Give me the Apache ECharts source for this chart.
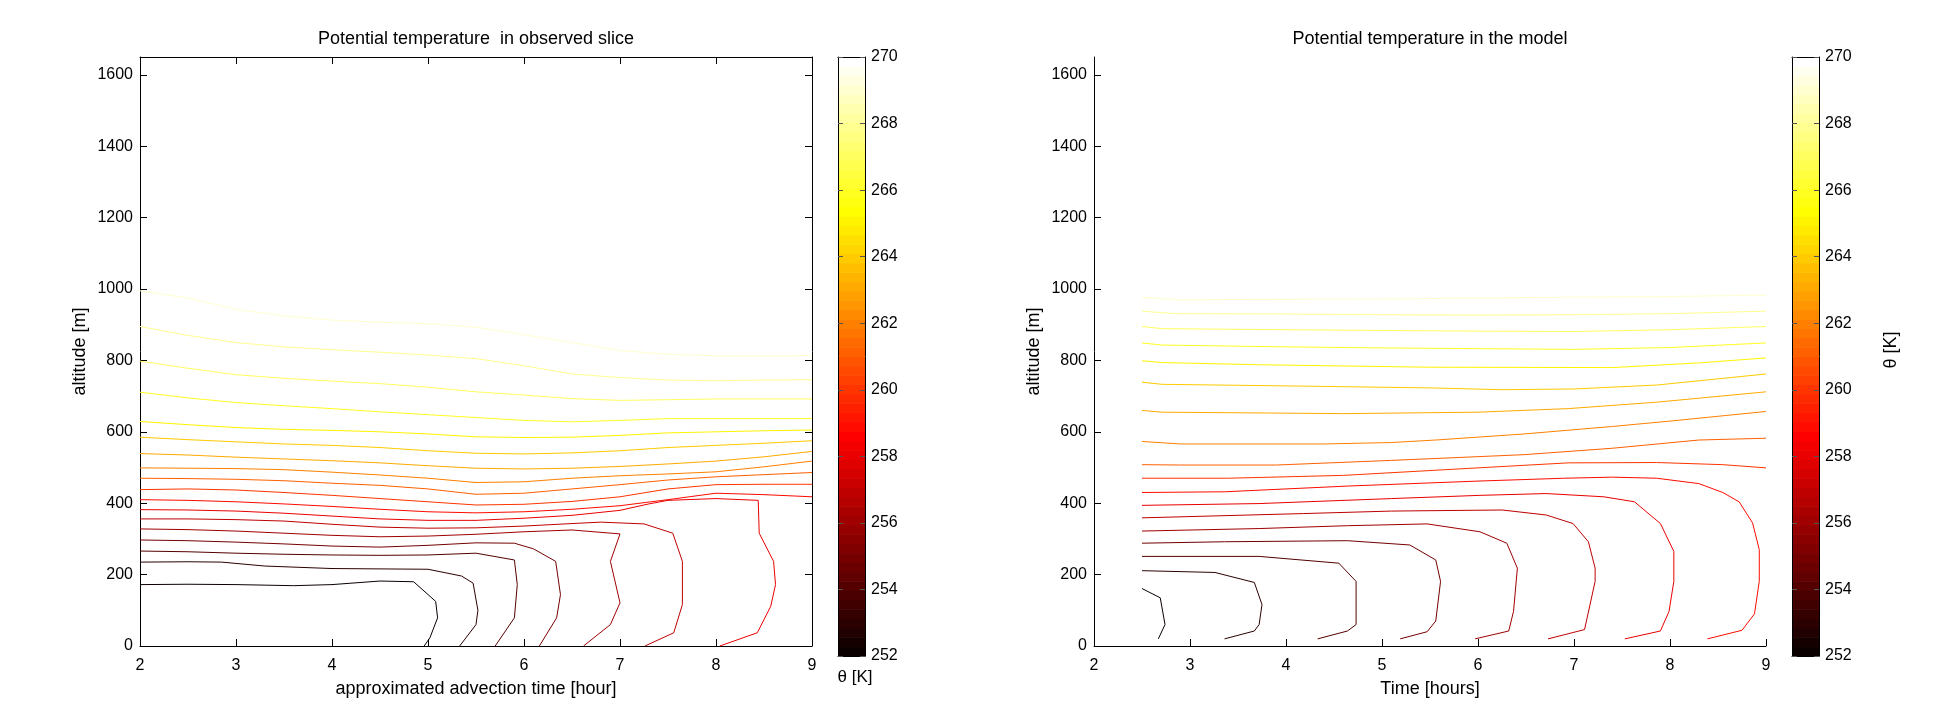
<!DOCTYPE html>
<html><head><meta charset="utf-8">
<script src="https://cdn.jsdelivr.net/npm/echarts@6/dist/echarts.min.js"></script>
<style>html,body{margin:0;padding:0;background:#fff}#c{width:1938px;height:703px}</style>
</head><body><div id="c"></div>
<script>
// ---------- tick labels / ranges ----------
const xTicksHours = [2, 3, 4, 5, 6, 7, 8, 9];
const altitudeTicks = [0, 200, 400, 600, 800, 1000, 1200, 1400, 1600];
const colorbarTicks = [252, 254, 256, 258, 260, 262, 264, 266, 268, 270];
const thetaMin = 252, thetaMax = 270;

// ---------- observed slice contours: [time (hour), altitude (m)] ----------
const obs_269 = [[2,995],[2.5,975],[3,943],[3.5,925],[4,913],[4.5,907],[5,903],[5.5,893],[6,872],[6.5,850],[7,828],[7.5,817],[8,813],[8.5,812],[9,814]];
const obs_268 = [[2,895],[2.5,870],[3,850],[3.5,838],[4,830],[4.5,823],[5,815],[5.5,805],[6,785],[6.5,762],[7,752],[7.5,745],[8,743],[8.5,745],[9,746]];
const obs_267 = [[2,798],[2.5,778],[3,760],[3.5,750],[4,742],[4.5,735],[5,725],[5.5,712],[6,703],[6.5,693],[7,688],[7.5,690],[8,692],[9,692]];
const obs_266 = [[2,711],[2.5,695],[3,682],[3.5,673],[4,665],[4.5,656],[5,648],[5.5,640],[6,632],[6.5,628],[7,632],[7.5,637],[8,637],[9,637]];
const obs_265 = [[2,629],[2.5,620],[3,612],[3.5,607],[4,604],[4.5,600],[5,594],[5.5,586],[6,584],[6.5,585],[7,590],[7.5,597],[8,600],[8.5,603],[9,605]];
const obs_264 = [[2,585],[2.5,578],[3,572],[3.5,566],[4,562],[4.5,556],[5,547],[5.5,540],[6,538],[6.5,541],[7,547],[7.5,556],[8,562],[8.5,568],[9,575]];
const obs_263 = [[2,539],[2.5,535],[3,529],[3.5,524],[4,519],[4.5,513],[5,505],[5.5,498],[6,496],[6.5,498],[7,503],[7.5,510],[8,518],[8.5,530],[9,545]];
const obs_262 = [[2,499],[2.5,498],[3,497],[3.5,494],[4,487],[4.5,479],[5,470],[5.5,458],[6,460],[6.5,470],[7,477],[7.5,482],[8,488],[8.5,502],[9,518]];
const obs_261 = [[2,470],[2.5,469],[3,467],[3.5,463],[4,456],[4.5,450],[5,440],[5.5,425],[6,428],[6.5,440],[7,452],[7.5,465],[8,474],[8.5,480],[9,486]];
const obs_260 = [[2,438],[2.5,440],[3,437],[3.5,430],[4,422],[4.5,413],[5,404],[5.5,395],[6,397],[6.5,405],[7,418],[7.5,440],[8,452],[8.5,453],[9,453]];
const obs_259 = [[2,410],[2.5,408],[3,404],[3.5,398],[4,391],[4.5,383],[5,376],[5.5,373],[6,376],[6.5,383],[7,393],[7.5,410],[8,428],[8.5,424],[9,418]];
const obs_258 = [[2,382],[2.5,381],[3,378],[3.5,372],[4,364],[4.5,356],[5,352],[5.5,352],[6,358],[6.5,366],[7,380],[7.3,398],[7.5,408],[8,413],[8.44,408],[8.45,316],[8.6,237],[8.62,172],[8.57,111],[8.43,37],[8.04,0]];
const obs_257 = [[2,356],[2.5,356],[3,354],[3.5,350],[4,341],[4.5,333],[5,330],[5.5,331],[6,336],[6.5,343],[6.8,347],[7.25,342],[7.55,316],[7.65,237],[7.65,116],[7.56,37],[7.26,0]];
const obs_256 = [[2,328],[2.5,326],[3,322],[3.5,316],[4,310],[4.5,306],[5,308],[5.5,313],[6,320],[6.5,325],[7,314],[6.9,237],[7,121],[6.9,60],[6.62,0]];
const obs_255 = [[2,297],[2.5,295],[3,291],[3.5,286],[4,280],[4.5,277],[5,282],[5.5,289],[5.9,288],[6.1,272],[6.33,237],[6.38,144],[6.34,79],[6.16,0]];
const obs_254 = [[2,266],[2.5,264],[3,260],[3.5,257],[4,255],[4.5,254],[5,255],[5.5,260],[5.9,241],[5.93,172],[5.9,79],[5.7,0]];
const obs_253 = [[2,235],[2.5,236],[2.85,235],[3.3,224],[4,217],[4.5,216],[5,215],[5.35,196],[5.47,176],[5.52,100],[5.5,60],[5.33,0]];
const obs_252 = [[2,172],[2.5,173],[3,172],[3.6,169],[4,172],[4.5,182],[4.85,180],[5.08,125],[5.1,79],[5.02,23],[4.96,0]];
const observedLevels = [269,268,267,266,265,264,263,262,261,260,259,258,257,256,255,254,253,252];
const observedLines = [obs_269,obs_268,obs_267,obs_266,obs_265,obs_264,obs_263,obs_262,obs_261,obs_260,obs_259,obs_258,obs_257,obs_256,obs_255,obs_254,obs_253,obs_252];

// ---------- model contours: [time (hours), altitude (m)] ----------
const mod_269 = [[2.5,977],[2.85,970],[4,971],[5,972],[6,975],[7,977],[8,979],[9,983]];
const mod_268 = [[2.5,938],[2.85,931],[4,930],[5,928],[6,927],[7,928],[8,931],[9,938]];
const mod_267 = [[2.5,895],[2.71,889],[4,886],[5,884],[6,882],[7,881],[8,886],[9,895]];
const mod_266 = [[2.5,849],[2.71,843],[4,838],[5,835],[6,833],[7,831],[8,836],[9,849]];
const mod_265 = [[2.5,799],[2.71,794],[3.7,788],[5.5,781],[7.4,780],[8.3,793],[9,807]];
const mod_264 = [[2.5,739],[2.71,733],[4.2,728],[5.5,723],[6.25,718],[7,720],[7.86,731],[9,762]];
const mod_263 = [[2.5,660],[2.71,655],[4.6,651],[6,655],[6.94,665],[7.86,683],[9,712]];
const mod_262 = [[2.5,573],[2.9,566],[4.4,566],[5.1,570],[5.56,577],[6.48,594],[7.4,615],[8,630],[9,657]];
const mod_261 = [[2.5,508],[2.9,507],[3.9,507],[5.1,520],[6.48,536],[7.4,554],[8.3,577],[9,582]];
const mod_260 = [[2.5,470],[3.4,470],[4.6,478],[6,499],[6.94,513],[7.86,514],[8.55,508],[9,499]];
const mod_259 = [[2.5,430],[3.36,432],[4.64,448],[6,462],[6.9,470],[7.4,473],[7.86,470],[8.3,455],[8.55,430],[8.72,404],[8.86,345],[8.93,270],[8.93,181],[8.88,90],[8.75,44],[8.39,20]];
const mod_258 = [[2.5,394],[3.72,399],[5.1,413],[6.02,422],[6.71,427],[7.31,418],[7.63,404],[7.9,343],[8.04,265],[8.04,181],[7.99,97],[7.9,42],[7.53,20]];
const mod_257 = [[2.5,359],[4.18,371],[5.1,378],[6.25,381],[6.71,367],[6.99,343],[7.15,292],[7.22,218],[7.22,181],[7.11,46],[6.73,20]];
const mod_256 = [[2.5,322],[3.72,329],[4.64,337],[5.47,342],[6.02,320],[6.3,288],[6.41,218],[6.37,97],[6.32,42],[5.97,20]];
const mod_255 = [[2.5,288],[3.36,292],[4.64,295],[5.29,283],[5.56,241],[5.61,181],[5.56,70],[5.47,40],[5.19,20]];
const mod_254 = [[2.5,251],[3.72,251],[4.55,232],[4.73,181],[4.73,60],[4.64,42],[4.33,20]];
const mod_253 = [[2.5,211],[3.26,206],[3.67,178],[3.75,116],[3.72,60],[3.67,42],[3.36,20]];
const mod_252 = [[2.5,161],[2.69,135],[2.74,60],[2.67,20]];
const modelLevels = [269,268,267,266,265,264,263,262,261,260,259,258,257,256,255,254,253,252];
const modelLines = [mod_269,mod_268,mod_267,mod_266,mod_265,mod_264,mod_263,mod_262,mod_261,mod_260,mod_259,mod_258,mod_257,mod_256,mod_255,mod_254,mod_253,mod_252];

// ---------- MATLAB "hot" colormap (64 entries) ----------
const NC = 64;
function hotIdx(i) {
  const r = Math.min(i / 24, 1);
  const g = Math.max(0, Math.min((i - 24) / 24, 1));
  const b = Math.max(0, Math.min((i - 48) / 16, 1));
  return 'rgb(' + Math.round(r * 255) + ',' + Math.round(g * 255) + ',' + Math.round(b * 255) + ')';
}
function hot(v) {
  let i = Math.floor((v - thetaMin) / (thetaMax - thetaMin) * NC) + 1;
  i = Math.max(1, Math.min(NC, i));
  return hotIdx(i);
}
const colorbarBands = [];
for (let i = 1; i <= NC; i++) {
  colorbarBands.push([0.5, thetaMin + (i - 1) * (thetaMax - thetaMin) / NC, thetaMin + i * (thetaMax - thetaMin) / NC, i]);
}

// ---------- layout ----------
const FONT = 'Liberation Sans';
const FS_TICK = 16;
const FS_TEXT = 18;
const G0 = {left: 140, top: 57, width: 672, height: 599};
const C0 = {left: 838, top: 57, width: 27, height: 599};
const G1 = {left: 1094, top: 57, width: 672, height: 599};
const C1 = {left: 1792, top: 57, width: 27, height: 599};

const lineBlack = {lineStyle: {color: '#000', width: 1}};
const lbl = {color: '#000', fontFamily: FONT, fontSize: FS_TICK, formatter: function (v) { return String(v); }};

function xAx(grid, opts) {
  return Object.assign({
    type: 'value', gridIndex: grid, min: 2, max: 9, interval: 1,
    axisLine: Object.assign({show: true, onZero: false}, lineBlack),
    axisTick: {show: true, inside: true, length: 7, lineStyle: {color: '#000'}},
    axisLabel: Object.assign({show: true, margin: 12}, lbl),
    splitLine: {show: false}
  }, opts);
}
function yAx(grid, opts) {
  return Object.assign({
    type: 'value', gridIndex: grid, min: 0, max: 1650, interval: 200,
    axisLine: Object.assign({show: true, onZero: false}, lineBlack),
    axisTick: {show: true, inside: true, length: 7, lineStyle: {color: '#000'}},
    axisLabel: Object.assign({show: true, margin: 7, showMaxLabel: false}, lbl),
    splitLine: {show: false}
  }, opts);
}
const nameStyle = {color: '#000', fontFamily: FONT, fontSize: FS_TEXT};

function frameX(grid, pos) {
  return {type: 'value', gridIndex: grid, min: 0, max: 1, show: true, position: pos, z: 10,
    axisLine: Object.assign({show: true, onZero: false}, lineBlack), axisTick: {show: false}, axisLabel: {show: false}, splitLine: {show: false}};
}
const xAxes = [
  xAx(0, {position: 'bottom', name: 'approximated advection time [hour]', nameLocation: 'middle', nameGap: 34, nameTextStyle: nameStyle}),
  xAx(0, {position: 'top', axisLabel: {show: false}}),
  frameX(1, 'bottom'),
  frameX(1, 'top'),
  xAx(2, {position: 'bottom', name: 'Time [hours]', nameLocation: 'middle', nameGap: 34, nameTextStyle: nameStyle}),
  frameX(3, 'bottom'),
  frameX(3, 'top')
];
function cbAx(grid, pos, labels) {
  return {type: 'value', gridIndex: grid, min: thetaMin, max: thetaMax, interval: 2, position: pos, z: 10,
    axisLine: Object.assign({show: true, onZero: false}, lineBlack),
    axisTick: {show: true, inside: true, length: 5, lineStyle: {color: '#555'}},
    axisLabel: Object.assign({show: labels, margin: 6}, lbl),
    splitLine: {show: false}};
}
const yAxes = [
  yAx(0, {position: 'left', name: 'altitude [m]', nameLocation: 'middle', nameGap: 51, nameRotate: 90, nameTextStyle: nameStyle}),
  yAx(0, {position: 'right', axisLabel: {show: false}}),
  cbAx(1, 'right', true),
  cbAx(1, 'left', false),
  yAx(2, {position: 'left', name: 'altitude [m]', nameLocation: 'middle', nameGap: 51, nameRotate: 90, nameTextStyle: nameStyle}),
  cbAx(3, 'right', true),
  cbAx(3, 'left', false)
];

const series = [];
observedLines.forEach(function (pts, k) {
  series.push({type: 'line', xAxisIndex: 0, yAxisIndex: 0, data: pts, symbol: 'none', showSymbol: false,
    lineStyle: {width: 1, color: hot(observedLevels[k])}, silent: true, animation: false});
});
modelLines.forEach(function (pts, k) {
  series.push({type: 'line', xAxisIndex: 4, yAxisIndex: 4, data: pts, symbol: 'none', showSymbol: false,
    lineStyle: {width: 1, color: hot(modelLevels[k])}, silent: true, animation: false});
});
function bandRender(params, api) {
  const p0 = api.coord([0, api.value(1)]);
  const p1 = api.coord([1, api.value(2)]);
  return {type: 'rect', shape: {x: p0[0], y: p1[1], width: p1[0] - p0[0], height: p0[1] - p1[1] + 0.6},
    style: {fill: hotIdx(api.value(3))}};
}
series.push({type: 'custom', xAxisIndex: 2, yAxisIndex: 2, data: colorbarBands, renderItem: bandRender,
  encode: {x: 0, y: [1, 2]}, silent: true, animation: false, z: 1});
series.push({type: 'custom', xAxisIndex: 5, yAxisIndex: 5, data: colorbarBands, renderItem: bandRender,
  encode: {x: 0, y: [1, 2]}, silent: true, animation: false, z: 1});

const txt = {fill: '#000', fontFamily: FONT, fontSize: FS_TEXT};
const option = {
  backgroundColor: '#fff',
  animation: false,
  grid: [G0, C0, G1, C1].map(function (g) { return Object.assign({containLabel: false}, g); }),
  xAxis: xAxes,
  yAxis: yAxes,
  series: series,
  graphic: [
    {type: 'text', x: 476, y: 39, style: Object.assign({text: 'Potential temperature  in observed slice', align: 'center', verticalAlign: 'middle'}, txt)},
    {type: 'text', x: 1430, y: 39, style: Object.assign({text: 'Potential temperature in the model', align: 'center', verticalAlign: 'middle'}, txt)},
    {type: 'text', x: 855, y: 677, style: Object.assign({text: 'θ [K]', align: 'center', verticalAlign: 'middle'}, txt, {fontSize: 17})},
    {type: 'text', x: 1891, y: 350, rotation: Math.PI / 2, style: Object.assign({text: 'θ [K]', align: 'center', verticalAlign: 'middle'}, txt)}
  ]
};
const chart = echarts.init(document.getElementById('c'), null, {renderer: 'canvas'});
chart.setOption(option);
</script>
</body></html>
